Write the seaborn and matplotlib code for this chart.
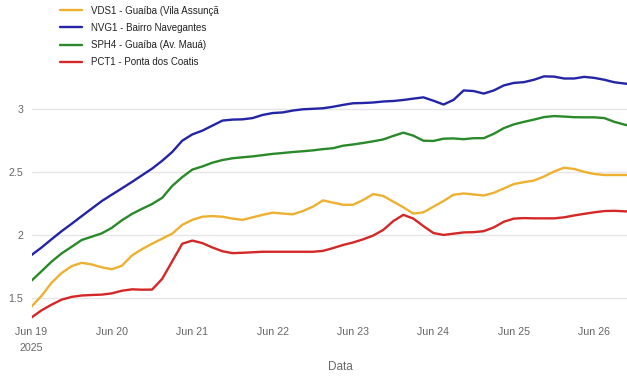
import matplotlib
matplotlib.use('Agg')
import matplotlib.pyplot as plt
import pandas as pd
import seaborn as sns

# measurements every 3 hours starting Jun 19 2025 00:00
times = pd.date_range('2025-06-19 00:00', periods=61, freq='3h')

vds1 = [1.43, 1.515, 1.62, 1.697, 1.752, 1.778, 1.765, 1.742, 1.727, 1.755,
        1.837, 1.887, 1.93, 1.97, 2.01, 2.08, 2.12, 2.145, 2.15, 2.145,
        2.13, 2.12, 2.14, 2.16, 2.177, 2.17, 2.164, 2.19, 2.225, 2.275,
        2.257, 2.24, 2.24, 2.278, 2.325, 2.31, 2.265, 2.22, 2.17, 2.18,
        2.225, 2.27, 2.32, 2.33, 2.322, 2.314, 2.335, 2.37, 2.405, 2.42,
        2.433, 2.465, 2.505, 2.535, 2.525, 2.502, 2.485, 2.477, 2.477, 2.477,
        2.477]
nvg1 = [1.84, 1.90, 1.966, 2.03, 2.089, 2.15, 2.21, 2.27, 2.321, 2.371,
        2.422, 2.475, 2.528, 2.59, 2.66, 2.75, 2.80, 2.83, 2.87, 2.91,
        2.918, 2.92, 2.93, 2.955, 2.97, 2.975, 2.99, 3.0, 3.004, 3.008,
        3.02, 3.035, 3.048, 3.05, 3.054, 3.062, 3.066, 3.074, 3.085, 3.095,
        3.068, 3.038, 3.075, 3.15, 3.145, 3.125, 3.15, 3.19, 3.21, 3.216,
        3.235, 3.262, 3.26, 3.245, 3.245, 3.258, 3.25, 3.235, 3.215, 3.205,
        3.195]
sph4 = [1.636, 1.711, 1.788, 1.853, 1.906, 1.96, 1.986, 2.013, 2.057, 2.117,
        2.167, 2.208, 2.246, 2.295, 2.39, 2.46, 2.52, 2.545, 2.575, 2.596,
        2.61, 2.618, 2.625, 2.635, 2.645, 2.652, 2.66, 2.666, 2.673, 2.683,
        2.69, 2.71, 2.72, 2.732, 2.745, 2.76, 2.788, 2.814, 2.79, 2.75,
        2.748, 2.766, 2.768, 2.762, 2.77, 2.77, 2.805, 2.85, 2.88, 2.90,
        2.918, 2.938, 2.946, 2.942, 2.937, 2.936, 2.936, 2.93, 2.90, 2.878,
        2.86]
pct1 = [1.343, 1.40, 1.445, 1.485, 1.507, 1.518, 1.522, 1.525, 1.535, 1.556,
        1.567, 1.564, 1.565, 1.65, 1.79, 1.93, 1.955, 1.935, 1.90, 1.87,
        1.855, 1.858, 1.862, 1.866, 1.866, 1.866, 1.866, 1.866, 1.866, 1.873,
        1.895, 1.92, 1.94, 1.965, 1.995, 2.04, 2.11, 2.16, 2.13, 2.07,
        2.015, 2.0, 2.01, 2.02, 2.022, 2.03, 2.06, 2.105, 2.13, 2.134,
        2.132, 2.132, 2.132, 2.14, 2.155, 2.168, 2.18, 2.19, 2.192, 2.188,
        2.185]

stations = ['VDS1 - Guaíba (Vila Assunçã', 'NVG1 - Bairro Navegantes',
            'SPH4 - Guaíba (Av. Mauá)', 'PCT1 - Ponta dos Coatis']
colors = ['#eeb030', '#2424a6', '#2a8a2a', '#d42828']

x_ticks = pd.date_range('2025-06-19', '2025-06-26', freq='D')
x_ticklabels = ['Jun 19\n2025', 'Jun 20', 'Jun 21', 'Jun 22', 'Jun 23', 'Jun 24', 'Jun 25', 'Jun 26']
y_ticks = [1.5, 2, 2.5, 3]
y_ticklabels = ['1.5', '2', '2.5', '3']

df = pd.DataFrame({
    'Data': list(times) * 4,
    'nivel': vds1 + nvg1 + sph4 + pct1,
    'estacao': [s for s in stations for _ in range(len(times))],
})

sns.set_style('white')
plt.rcParams['font.family'] = ['Liberation Sans', 'DejaVu Sans']

fig = plt.figure(figsize=(6.27, 3.76), dpi=100)
ax = fig.add_axes([31.5 / 627, 0.1513, 1 - 31.5 / 627, 0.675])

sns.lineplot(data=df, x='Data', y='nivel', hue='estacao', hue_order=stations,
             palette=dict(zip(stations, colors)), linewidth=1.7, ax=ax)

ax.set_xlim(times[0], times[0] + pd.Timedelta(days=7.407))
ax.set_ylim(1.33, 3.35)
ax.set_xticks(x_ticks)
ax.set_xticklabels(x_ticklabels, fontsize=7.7, color='#666666')
for lbl in ax.get_xticklabels():
    lbl.set_linespacing(1.75)
ax.set_yticks(y_ticks)
ax.set_yticklabels(y_ticklabels, fontsize=7.7, color='#666666')
ax.tick_params(length=0)
ax.tick_params(axis='y', pad=6)
ax.tick_params(axis='x', pad=6)
ax.yaxis.grid(True, color='#e6e6e6', linewidth=1)
ax.xaxis.grid(False)
for s in ax.spines.values():
    s.set_visible(False)

ax.set_ylabel('')
ax.set_xlabel('Data', fontsize=8.5, color='#666666')
ax.xaxis.set_label_coords((340 - 31.5) / 595.5, (319.1 - 367) / 253.8)
ax.xaxis.label.set_va('center')

handles, labels = ax.get_legend_handles_labels()
ax.legend(handles, labels, loc='upper left', bbox_to_anchor=(60 / 627, 1 - 5.5 / 376),
          bbox_transform=fig.transFigure, frameon=False, fontsize=7,
          handlelength=2.3, handletextpad=0.9, labelspacing=0.75,
          borderpad=0, borderaxespad=0, labelcolor='#222222')

fig.savefig('out.png', dpi=100)
